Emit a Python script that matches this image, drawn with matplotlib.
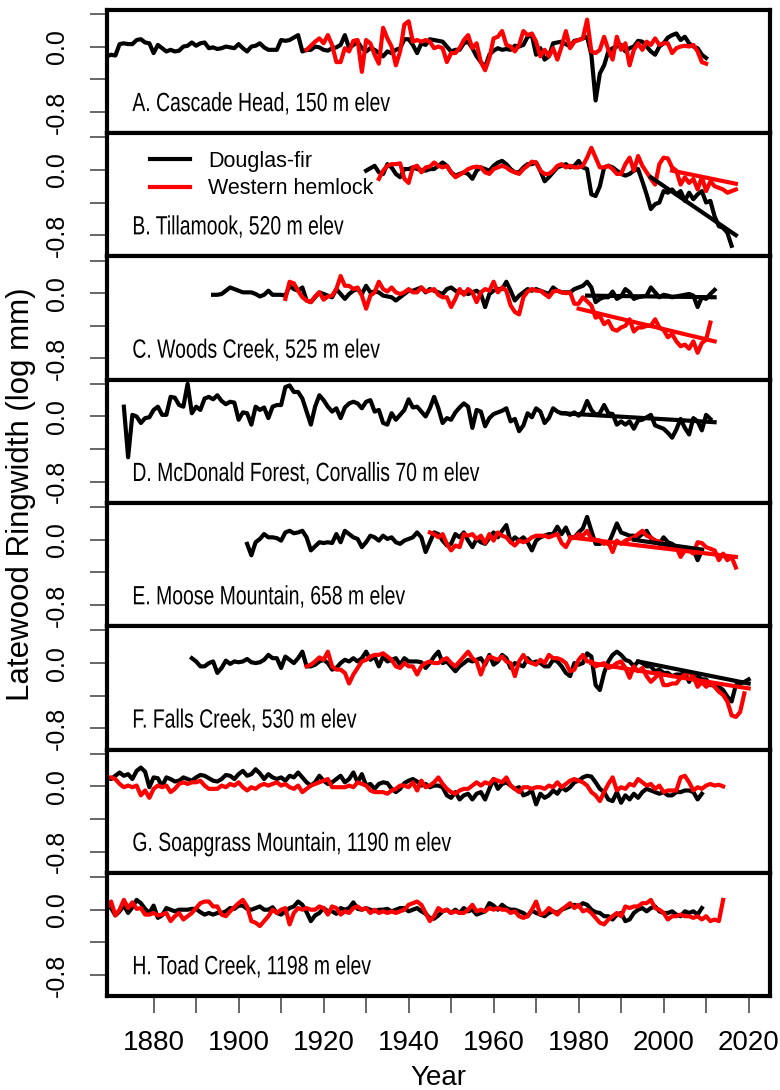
import numpy as np
import matplotlib
matplotlib.use("Agg")
import matplotlib.pyplot as plt
from matplotlib.lines import Line2D
from matplotlib.patheffects import AbstractPathEffect
from matplotlib.transforms import Affine2D

plt.rcParams['font.family'] = ['Liberation Sans', 'DejaVu Sans']
plt.rcParams['axes.unicode_minus'] = False

# ring-width indices, hundredths of log mm, one value per year from the start year
df_a_start = 1869
df_a = [-12,-10,-11,3,4,3,3,8,9,5,4,-8,2,-2,-6,-4,-6,-5,0,1,5,1,4,5,-2,-1,-3,-2,0,-1,-2,3,-2,-6,0,1,4,-1,-4,-4,
        -4,8,7,8,11,14,-6,-4,-4,0,-1,-4,-5,-2,-1,2,14,-2,2,6,-2,-6,-2,-4,-8,-12,-6,-8,-4,-2,9,9,2,-8,4,2,9,8,7,6,
        0,-6,-4,-4,4,6,-2,-12,-19,-25,-10,-5,-2,-4,-3,-4,1,0,2,12,14,-10,-2,-16,-12,4,5,6,3,0,7,8,10,12,-10,-66,
        -33,-23,-6,-2,0,2,-6,-2,0,7,6,0,-6,-10,0,4,11,14,16,8,12,4,0,-2,-10,-14]
wh_a_start = 1916
wh_a = [-4,1,6,10,4,14,2,-19,-19,-2,-6,7,8,-31,8,4,-10,-21,23,10,0,-23,-6,27,31,6,8,6,8,6,-2,0,-2,-19,-8,-8,-2,8,
        14,-2,4,-19,-29,-14,10,12,19,2,0,-6,2,19,14,16,6,-12,-4,-12,-2,-16,0,19,-2,6,8,10,33,-6,-8,-4,12,-4,-16,12,
        -4,4,-23,-4,4,-4,6,2,10,2,4,4,-8,-2,0,1,0,2,-6,-19,-21]

df_b_start = 1930
df_b = [-1,2,5,-3,-5,7,3,-5,-9,1,1,3,1,0,-1,1,1,5,9,5,-3,-7,-5,-3,-5,-11,-1,3,1,-1,5,9,11,7,1,-3,-3,3,7,7,9,-1,
        -14,-9,-3,3,5,7,3,5,11,3,1,-30,-32,-20,3,5,3,-1,-5,-7,-5,-1,1,-14,-30,-48,-42,-40,-26,-28,-24,-30,-26,-38,
        -28,-36,-30,-26,-40,-38,-57,-69,-71,-77,-93]
wh_b_start = 1933
wh_b = [-11,-1,5,7,7,8,-11,-16,3,5,-3,3,4,9,5,3,5,-3,-9,-6,-3,1,3,4,3,-3,-5,1,3,5,3,-1,-3,-5,1,5,10,9,-1,-5,-5,
        -1,5,7,3,5,3,3,5,15,27,15,3,3,5,1,-5,-5,7,15,-1,17,5,-3,-11,-18,7,15,14,3,-1,-18,-9,-16,-11,-24,-9,-26,-14,
        -20,-22,-24,-28,-26,-24]

df_c_start = 1894
df_c = [-2,-2,-1,3,7,5,3,1,1,1,-1,-4,-2,3,-2,-2,-2,-3,9,5,3,7,-9,-11,-5,1,-1,-3,-5,5,-1,-7,-1,3,5,-1,9,1,2,1,-3,
        -4,-5,-9,-5,-1,3,3,5,7,1,5,3,1,-1,5,7,3,1,1,-1,1,3,-1,-17,-1,3,5,5,14,3,-9,-3,1,5,3,5,3,1,-1,7,3,1,1,1,5,7,
        9,14,7,-11,-7,-5,-5,2,-7,-4,5,1,-7,-5,-4,-3,7,1,-5,-2,-3,-5,-4,-3,-2,-1,-3,-17,-5,-7,-1,4]
wh_c_start = 1911
wh_c = [-7,14,12,3,-5,-9,-11,-4,1,-8,-4,-3,5,21,9,9,5,7,-3,-19,-3,1,14,5,2,7,1,-1,1,5,1,1,7,2,3,5,-2,-5,-5,-17,
        -7,5,-2,5,1,-11,1,5,3,14,1,7,3,-15,-23,-26,-5,2,5,3,3,-1,-5,2,3,1,0,1,-13,-13,-5,-10,-15,-30,-28,-38,-34,
        -44,-46,-42,-40,-32,-47,-42,-42,-40,-40,-32,-42,-45,-54,-50,-59,-65,-63,-68,-59,-73,-61,-57,-36]

df_d_start = 1873
df_d = [12,-50,2,0,-8,-2,-1,8,12,2,2,24,23,14,12,40,4,12,8,22,24,21,26,19,15,18,17,-4,5,4,-10,12,8,11,-2,12,14,
        14,36,38,30,30,22,6,-10,12,26,20,12,6,10,-2,11,16,18,16,10,18,20,6,8,-8,-10,4,-4,2,8,21,11,12,6,0,10,24,10,
        -8,-2,-4,5,11,16,12,-14,8,6,-12,-2,3,5,7,10,-6,-3,-18,-11,4,-1,10,6,-8,-2,10,6,4,4,2,5,1,6,19,8,2,4,14,4,3,
        -10,-6,-10,-6,-15,-5,-4,-1,2,-11,-13,-15,-20,-26,-16,-3,-14,-22,-2,-6,-17,2,-3]

df_e_start = 1902
df_e = [-5,-19,-3,1,7,3,3,2,-1,9,11,8,9,11,3,-13,-8,-3,-4,-3,-4,7,-3,11,7,3,1,-9,-3,5,3,-1,5,1,3,-3,-5,-1,1,3,9,
        3,-15,-3,9,7,-1,-7,-5,7,3,9,-1,-9,1,-3,-5,2,9,3,11,18,-3,3,-1,3,-3,-13,-1,3,5,7,7,16,7,15,3,3,9,14,28,11,-5,
        -5,-3,-5,7,20,9,7,5,5,3,7,11,2,-1,-5,3,-3,-5,-9,-13,-9,-13,-12,-25,-13]
wh_e_start = 1945
wh_e = [9,7,3,7,-5,-13,-7,-9,7,5,7,1,5,-4,7,-1,9,5,3,-3,-7,-1,-3,-1,3,5,5,5,3,5,7,-4,-9,1,3,7,5,11,1,0,-1,-5,-3,
        -15,-1,-5,-1,1,3,7,11,5,3,-1,-2,-5,-9,-11,-9,-21,-13,-13,-17,-3,-4,-9,-11,-13,-25,-17,-25,-21,-34]

df_f_start = 1889
df_f = [6,2,-4,-4,0,2,-12,-6,3,-1,2,1,2,5,1,0,1,4,10,6,6,-6,8,4,0,6,14,-4,-4,-2,2,4,0,-8,-6,0,4,2,6,2,6,14,4,8,
        -4,8,2,4,6,-2,6,2,2,2,1,-6,0,8,14,0,2,-4,-10,-4,0,4,2,4,6,-2,10,-2,2,10,6,-6,0,-2,-4,6,0,2,0,-4,-4,4,2,-4,
        -12,-16,0,-2,0,12,8,-27,-33,-12,2,10,14,10,4,2,-4,2,0,-4,-4,-10,-8,-12,-12,-16,-14,-14,-12,-23,-14,-16,-20,
        -20,-27,-27,-29,-33,-41,-47,-27,-25,-23,-20]
wh_f_start = 1916
wh_f = [-4,-2,2,7,4,14,-4,-8,-8,-12,-25,-14,-6,2,4,8,10,10,12,8,4,-4,-6,0,-4,-4,-14,-4,0,2,0,0,4,6,0,-4,2,8,14,
        6,2,-14,0,8,6,4,8,2,0,-16,2,10,2,0,-2,4,0,10,6,6,4,0,-10,-8,4,10,2,2,-4,-2,0,-6,-4,0,2,-6,-18,-4,-10,-6,-16,
        -23,-18,-12,-27,-27,-25,-25,-18,-14,-12,-16,-29,-23,-29,-25,-29,-35,-39,-47,-64,-66,-60,-37]

df_g_start = 1869
df_g = [11,9,13,17,13,15,9,19,23,18,-1,11,10,0,11,9,6,7,11,9,7,11,14,13,10,7,6,9,14,13,9,15,19,13,15,21,16,9,15,
        11,9,11,7,13,11,17,11,5,1,5,13,7,3,5,9,13,5,9,17,5,15,1,3,-3,3,5,4,-3,-7,-3,4,7,9,6,1,3,-1,1,1,-1,-11,-14,
        -7,-16,-11,-9,-16,-9,-7,-16,-3,9,-3,3,5,1,-3,-1,-11,-9,-5,-22,-9,-14,-11,-5,-9,-1,-5,-1,5,7,11,13,12,5,-3,
        -7,-16,-18,-7,-20,-11,-16,-9,-14,-7,-3,-5,-7,-9,-7,-11,-11,-7,-7,-5,-5,-7,-16,-9]
wh_g_start = 1869
wh_g = [11,11,9,3,-1,1,-1,1,-11,-5,-14,-3,1,-1,1,-7,-3,3,5,3,5,5,7,1,-3,-3,-3,1,-1,3,1,5,-1,-5,-1,-3,1,3,1,3,5,
        1,3,-1,-3,1,-7,-3,1,3,5,7,9,-1,-1,-1,-1,1,-1,5,3,1,-5,-7,-7,-7,-9,-5,-3,1,1,-1,5,-5,7,-1,1,5,11,3,-3,-7,-9,
        -5,-3,-3,1,5,1,5,3,9,7,5,11,1,-3,-7,-1,-1,-3,-1,-1,-3,1,-1,5,-1,3,7,9,7,5,1,-7,-11,-18,-7,3,11,-5,-1,-3,3,
        1,9,5,1,3,-3,1,-7,-5,-5,-5,11,13,5,-5,-1,-3,1,3,1,2,0]

df_h_start = 1869
df_h = [4,2,-7,-2,5,-4,3,12,8,1,-4,5,-10,-7,2,0,-2,0,0,0,1,1,-3,-6,-4,-6,-4,-4,-2,2,1,5,5,1,0,2,4,0,0,3,-4,-6,
        -2,2,4,10,6,-3,-14,-7,-4,2,-2,-2,-5,2,0,2,9,1,0,2,0,-2,0,0,1,-2,0,2,2,-2,0,2,-2,-5,-10,-11,-7,-2,0,-4,0,-4,
        2,-2,0,-6,-4,-2,8,5,0,6,2,0,0,-2,-4,-8,-1,-4,-6,-8,-4,-2,-4,0,2,4,6,4,8,6,0,-3,-4,-8,-8,-12,-6,-4,-14,-12,
        -4,0,2,-2,2,4,-2,-4,-4,-2,-6,-8,-2,-4,-2,-6,2]
wh_h_start = 1869
wh_h = [2,10,-7,0,12,2,9,1,2,-6,-6,-4,-7,-6,-4,-14,-8,-4,-12,-8,-4,2,8,10,10,4,4,-6,-8,-2,3,8,12,4,-14,-16,-20,
        -14,-8,0,-4,0,2,-18,-4,2,0,2,0,0,4,2,-6,4,2,-6,-2,-4,2,4,0,2,-4,0,-4,-2,-4,-2,-4,-2,0,6,8,10,6,-4,-14,-8,2,
        -2,0,-4,-2,-4,-4,0,6,-2,0,-2,2,0,2,0,0,-4,-2,-8,-10,-8,0,10,-6,-4,2,-2,-6,0,4,8,2,6,-2,0,-4,-10,-16,-18,-12,
        -8,-4,-8,4,2,4,4,8,8,12,2,0,-4,-12,-8,-8,-6,-8,-8,-10,-8,-12,-8,-14,-12,-14,12]

# recent linear trends: (first year, last year) and fitted values at those years
df_b_trend = ([1997, 2017], [-9, -80])
wh_b_trend = ([2002, 2017], [-1, -17])
df_c_trend = ([1982, 2012], [-3, -5])
wh_c_trend = ([1980, 2012], [-19, -59])
df_d_trend = ([1976, 2012], [4, -7])
df_e_trend = ([1993, 2009], [0, -12])
wh_e_trend = ([1978, 2017], [3, -21])
df_f_trend = ([1994, 2020], [2, -25])
wh_f_trend = ([1983, 2020], [0, -31])

site_labels = ["A. Cascade Head, 150 m elev",
               "B. Tillamook, 520 m elev",
               "C. Woods Creek, 525 m elev",
               "D. McDonald Forest, Corvallis 70 m elev",
               "E. Moose Mountain, 658 m elev",
               "F. Falls Creek, 530 m elev",
               "G. Soapgrass Mountain, 1190 m elev",
               "H. Toad Creek, 1198 m elev"]

panels = [
    (df_a_start, df_a, wh_a_start, wh_a, None, None),
    (df_b_start, df_b, wh_b_start, wh_b, df_b_trend, wh_b_trend),
    (df_c_start, df_c, wh_c_start, wh_c, df_c_trend, wh_c_trend),
    (df_d_start, df_d, None, None, df_d_trend, None),
    (df_e_start, df_e, wh_e_start, wh_e, df_e_trend, wh_e_trend),
    (df_f_start, df_f, wh_f_start, wh_f, df_f_trend, wh_f_trend),
    (df_g_start, df_g, wh_g_start, wh_g, None, None),
    (df_h_start, df_h, wh_h_start, wh_h, None, None),
]

LW = 3.0
RED = '#ff0000'
LABEL_X = 1875


class Condensed(AbstractPathEffect):
    """Squeeze glyphs horizontally about the text's left edge."""

    def __init__(self, sx, ax):
        super().__init__()
        self.sx = sx
        self.ax = ax

    def draw_path(self, renderer, gc, tpath, affine, rgbFace=None):
        x0 = self.ax.transData.transform((LABEL_X, 0))[0]
        squeeze = Affine2D().translate(-x0, 0).scale(self.sx, 1).translate(x0, 0)
        renderer.draw_path(gc, tpath, affine + squeeze, rgbFace)


fig, axes = plt.subplots(8, 1, figsize=(7.8, 10.9), dpi=100, sharex=True)
fig.subplots_adjust(left=0.137, right=0.987, top=0.991, bottom=0.086, hspace=0)

for ax, label, (ds, dv, ws, wv, dtr, wtr) in zip(axes, site_labels, panels):
    yrs = ds + np.arange(len(dv))
    ax.plot(yrs, np.array(dv) / 100, color='black', lw=LW)
    if wv is not None:
        yrs = ws + np.arange(len(wv))
        ax.plot(yrs, np.array(wv) / 100, color=RED, lw=LW)
    if dtr is not None:
        ax.plot(dtr[0], np.array(dtr[1]) / 100, color='black', lw=LW)
    if wtr is not None:
        ax.plot(wtr[0], np.array(wtr[1]) / 100, color=RED, lw=LW)

    ax.set_xlim(1869, 2025)
    ax.set_ylim(-1.06, 0.45)
    ax.set_yticks([0.4, 0.0, -0.4, -0.8])
    ax.set_yticklabels(['', '0.0', '', '-0.8'], rotation=90, va='center', fontsize=18)
    ax.tick_params(axis='y', length=12, width=1.2, color='0.3', pad=15)
    ax.tick_params(axis='x', bottom=False, labelbottom=False)
    for sp in ax.spines.values():
        sp.set_linewidth(3.0)
    ax.text(LABEL_X, -0.79, label, fontsize=19, va='baseline', ha='left',
            path_effects=[Condensed(0.735, ax)])

# year axis on the bottom panel only
bottom = axes[-1]
xt = np.arange(1880, 2021, 10)
bottom.set_xticks(xt)
bottom.set_xticklabels([str(y) if y % 20 == 0 else '' for y in xt])
bottom.tick_params(axis='x', bottom=True, labelbottom=True, length=12, width=1.2,
                   color='0.3', pad=12, labelsize=20)

handles = [Line2D([], [], color='black', lw=LW), Line2D([], [], color=RED, lw=LW)]
axes[1].legend(handles, ['Douglas-fir', 'Western hemlock'], loc='upper left',
               bbox_to_anchor=(0.065, 0.855), frameon=False, fontsize=15.5,
               handlelength=1.85, handletextpad=0.85, labelspacing=0.3,
               borderpad=0, borderaxespad=0)

fig.text(0.027, 0.547, 'Latewood Ringwidth (log mm)', rotation=90,
         ha='center', va='center', fontsize=22.5)
fig.text(0.5615, 0.011, 'Year', ha='center', va='center', fontsize=20)

fig.savefig('out.png', dpi=100)
